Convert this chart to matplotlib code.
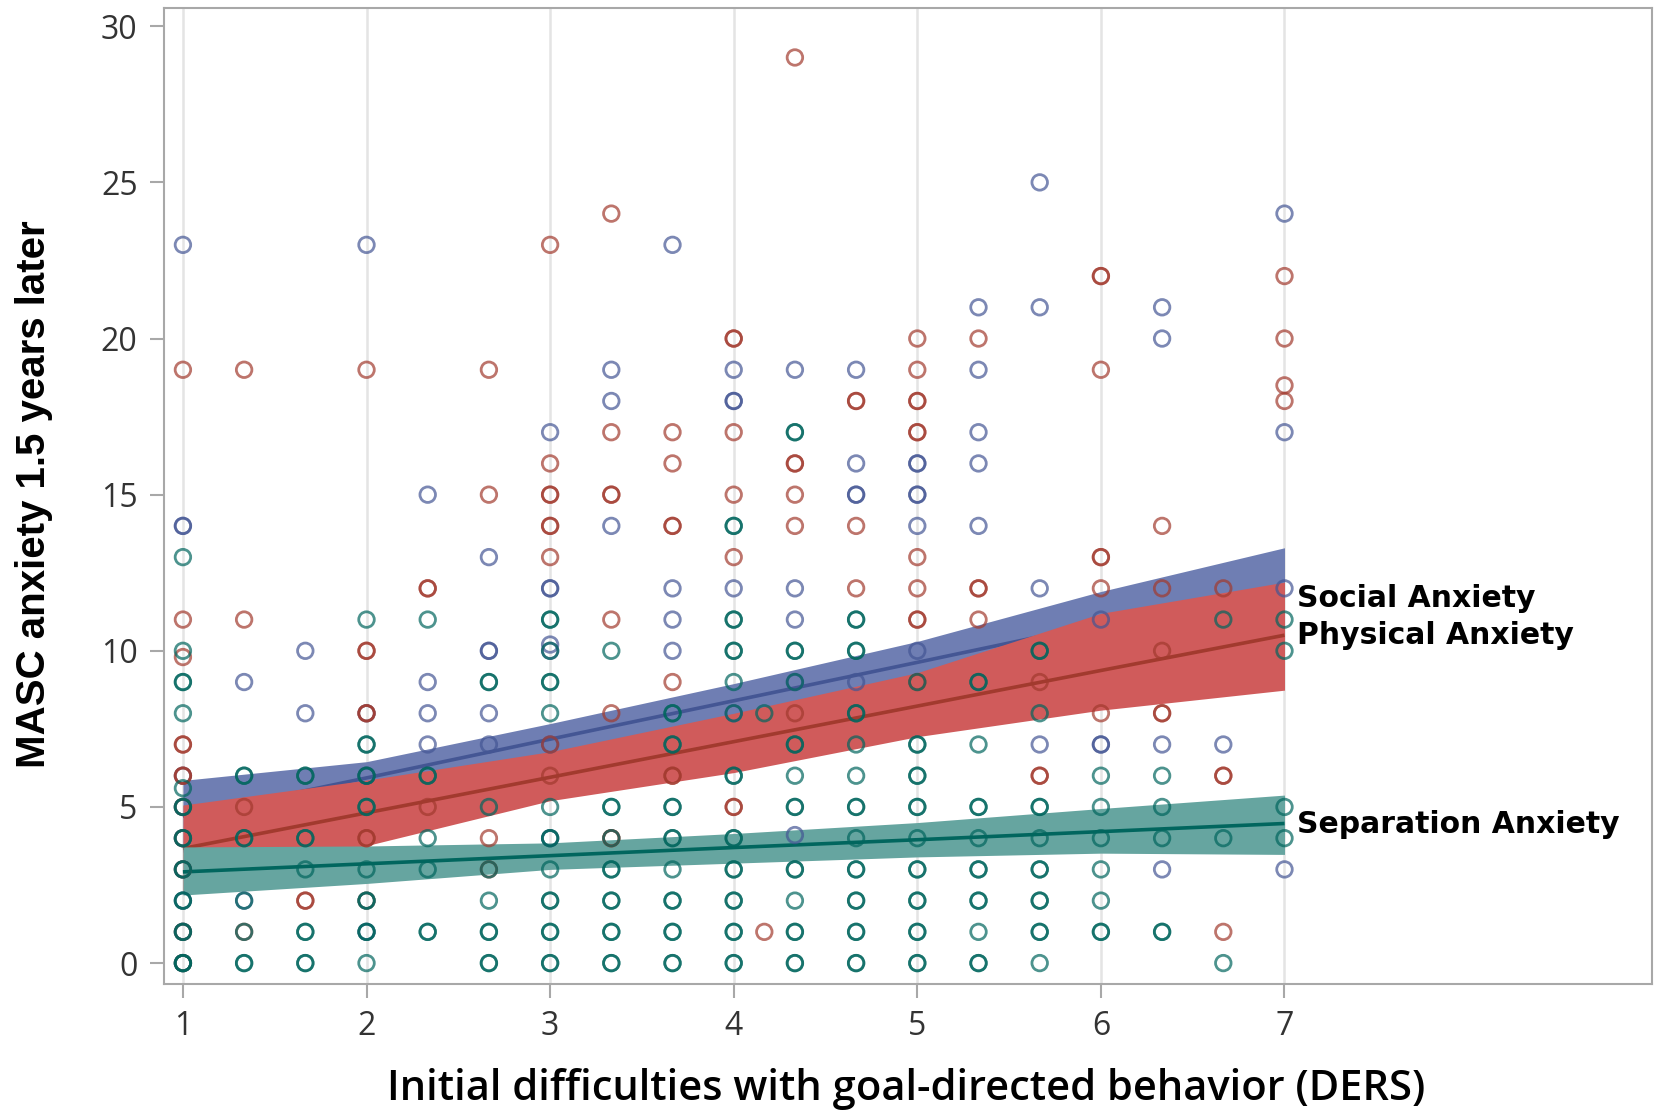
import matplotlib
matplotlib.use("Agg")
import matplotlib.pyplot as plt
import numpy as np

# ---------------- data ----------------
a, b = 1 + 1/3, 1 + 2/3
social_x = ([1]*10 + [a]*2 + [b]*2 + [2]*4 + [2+1/3]*4 + [2+2/3]*5 + [3]*7 + [3+1/3]*3 +
            [3+2/3]*4 + [4]*5 + [4+1/3]*5 + [4+2/3]*5 + [5]*6 + [5+1/3]*5 + [5+2/3]*4 +
            [6]*3 + [6+1/3]*4 + [6+2/3]*1 + [7]*4)
social_y = ([23, 14, 14, 6, 5, 4, 3, 2, 1, 0] + [9, 2] + [10, 8] + [23, 8, 6, 1] + [15, 9, 8, 7] +
            [13, 10, 10, 8, 7] + [17, 12, 12, 10, 10.2, 7, 4] + [19, 18, 14] + [23, 12, 11, 10] +
            [19, 18, 18, 12, 8] + [19, 12, 11, 9, 4.1] + [19, 16, 15, 15, 9] + [16, 16, 15, 15, 14, 10] +
            [21, 19, 17, 16, 14] + [25, 21, 12, 7] + [11, 7, 7] + [21, 20, 7, 3] + [7] + [24, 17, 12, 3])

phys_x = ([1]*12 + [a]*4 + [b]*2 + [2]*8 + [2+1/3]*3 + [2+2/3]*4 + [3]*9 + [3+1/3]*8 +
          [3+2/3]*7 + [4]*7 + [4+1/6]*1 + [4+1/3]*6 + [4+2/3]*4 + [5]*11 + [5+1/3]*4 +
          [5+2/3]*3 + [6]*7 + [6+1/3]*5 + [6+2/3]*4 + [7]*4)
phys_y = ([19, 11, 9.8, 7, 7, 6, 6, 5, 4, 3, 1, 0] + [19, 11, 5, 1] + [2, 2] +
          [19, 10, 10, 8, 8, 4, 4, 2] + [12, 12, 5] + [19, 15, 4, 3] +
          [23, 16, 15, 15, 14, 14, 13, 7, 6] + [24, 17, 15, 15, 11, 8, 4, 4] +
          [17, 16, 14, 14, 9, 6, 6] + [20, 20, 17, 15, 13, 5, 5] + [1] + [29, 16, 16, 15, 14, 8] +
          [18, 18, 14, 12] + [20, 19, 18, 18, 17, 17, 13, 12, 11, 11, 9] + [20, 12, 12, 11] +
          [9, 6, 6] + [22, 22, 19, 13, 13, 12, 8] + [14, 12, 10, 8, 8] + [12, 6, 6, 1] +
          [22, 20, 18.5, 18])

sep_x = ([1]*19 + [a]*8 + [b]*9 + [2]*13 + [2+1/3]*7 + [2+2/3]*9 + [3]*16 + [3+1/3]*12 +
         [3+2/3]*15 + [4]*20 + [4+1/6]*1 + [4+1/3]*17 + [4+2/3]*19 + [5]*16 + [5+1/3]*13 +
         [5+2/3]*13 + [6]*7 + [6+1/3]*5 + [6+2/3]*3 + [7]*4)
sep_y = ([13, 10, 9, 9, 8, 5.6, 5, 5, 4, 4, 3, 3, 2, 2, 1, 1, 0, 0, 0] +
         [6, 6, 4, 4, 2, 1, 0, 0] + [6, 6, 4, 4, 3, 1, 1, 0, 0] +
         [11, 7, 7, 6, 6, 5, 5, 3, 2, 2, 1, 1, 0] + [11, 6, 6, 4, 3, 1, 1] +
         [9, 9, 5, 3, 2, 1, 1, 0, 0] + [11, 11, 10, 9, 9, 8, 5, 4, 4, 3, 2, 2, 1, 1, 0, 0] +
         [10, 5, 5, 4, 3, 3, 2, 2, 1, 1, 0, 0] + [8, 8, 7, 7, 5, 5, 4, 4, 3, 2, 2, 1, 1, 0, 0] +
         [14, 14, 11, 11, 10, 10, 9, 8, 6, 6, 4, 4, 3, 3, 2, 2, 1, 1, 0, 0] + [8] +
         [17, 17, 10, 10, 9, 7, 7, 6, 5, 5, 3, 3, 2, 1, 1, 0, 0] +
         [11, 11, 10, 10, 8, 8, 7, 6, 5, 5, 4, 3, 3, 2, 2, 1, 1, 0, 0] +
         [9, 7, 7, 6, 6, 5, 5, 4, 3, 3, 2, 2, 1, 1, 0, 0] +
         [9, 9, 7, 5, 5, 4, 3, 3, 2, 2, 1, 0, 0] + [10, 10, 8, 5, 5, 4, 3, 3, 2, 2, 1, 1, 0] +
         [6, 5, 4, 3, 2, 1, 1] + [6, 5, 4, 1, 1] + [11, 4, 0] + [11, 10, 5, 4])

# fitted lines and confidence bands (evaluated at x = 1..7)
fit_x = [1, 2, 3, 4, 5, 6, 7]
social_fit = [4.70, 5.93, 7.17, 8.40, 9.63, 10.87, 12.10]
social_lo = [3.55, 5.41, 6.67, 7.85, 8.96, 9.84, 10.90]
social_hi = [5.85, 6.45, 7.67, 8.95, 10.30, 11.90, 13.30]
phys_fit = [3.67, 4.81, 5.95, 7.09, 8.23, 9.37, 10.50]
phys_lo = [2.28, 3.76, 5.20, 6.10, 7.25, 8.10, 8.74]
phys_hi = [5.06, 5.86, 6.77, 8.00, 9.30, 11.20, 12.20]
sep_fit = [2.92, 3.18, 3.44, 3.70, 3.95, 4.21, 4.47]
sep_lo = [2.18, 2.55, 3.00, 3.20, 3.40, 3.52, 3.48]
sep_hi = [3.72, 3.75, 3.85, 4.15, 4.50, 4.95, 5.38]

labels = ["Social Anxiety", "Physical Anxiety", "Separation Anxiety"]
label_y = [11.67, 10.48, 4.43]
x_ticks = [1, 2, 3, 4, 5, 6, 7]
y_ticks = [0, 5, 10, 15, 20, 25, 30]

# ---------------- style ----------------
line_cols = ["#445694", "#A23A2E", "#01665E"]
fill_cols = ["#6F7EB3", "#D05B5B", "#66A5A0"]

fig = plt.figure(figsize=(16.55, 11.12), dpi=100)
ax = fig.add_axes([0.0991, 0.1151, 0.8989, 0.8773])
ax.set_xlim(0.897, 9.0)
ax.set_ylim(-0.67, 30.57)

for xv in x_ticks:
    ax.axvline(xv, color="#E4E4E4", lw=1.8, zorder=0)

fits = [(social_lo, social_hi, social_fit), (phys_lo, phys_hi, phys_fit), (sep_lo, sep_hi, sep_fit)]
for i, (lo, hi, fit) in enumerate(fits):
    ax.fill_between(fit_x, lo, hi, color=fill_cols[i], lw=0, zorder=2 + i)
    ax.plot(fit_x, fit, color=line_cols[i], lw=2.6, zorder=2 + i, solid_capstyle="butt")

for i, (xs, ys) in enumerate([(social_x, social_y), (phys_x, phys_y), (sep_x, sep_y)]):
    ax.scatter(xs, ys, s=125, facecolors="none", edgecolors=line_cols[i],
               linewidths=2.0, alpha=0.7, zorder=6 + i)

for lab, yv in zip(labels, label_y):
    ax.text(7.07, yv, lab, fontsize=21.5, fontweight="bold", family="DejaVu Sans",
            ha="left", va="center", color="black", zorder=10)

for sp in ax.spines.values():
    sp.set_color("#A8A8A8")
    sp.set_linewidth(1.5)

ax.set_xticks(x_ticks)
ax.set_yticks(y_ticks)
ax.tick_params(axis="both", colors="#A8A8A8", length=10, width=1.5, labelcolor="#333333",
               labelsize=23, pad=9)
for t in ax.get_xticklabels() + ax.get_yticklabels():
    t.set_family("Open Sans")

ax.set_xlabel("Initial difficulties with goal-directed behavior (DERS)", fontsize=30,
              family="Open Sans", fontweight="semibold", va="center", ha="center")
ax.xaxis.set_label_coords(0.4987, -0.1076)
ax.set_ylabel("MASC anxiety 1.5 years later", fontsize=29, family="Liberation Sans",
              fontweight="bold", va="center", ha="center")
ax.yaxis.set_label_coords(-0.0874, 0.502)

fig.savefig("out.png", dpi=100)
